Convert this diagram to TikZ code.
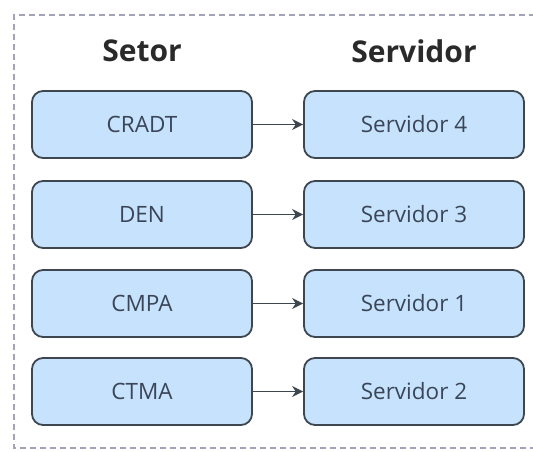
\documentclass[tikz,border=0pt]{standalone}
\usepackage{fontspec}
\setmainfont{Open Sans}
\usetikzlibrary{arrows.meta}
\definecolor{boxfill}{HTML}{C7E2FC}
\definecolor{boxline}{HTML}{3E4650}
\definecolor{boxtext}{HTML}{3A4658}
\definecolor{frameline}{HTML}{A2A2B8}
\definecolor{headtext}{HTML}{2A2A2A}
\tikzset{
  x=1pt, y=-1pt,
  itembox/.style={draw=boxline, fill=boxfill, line width=1.8pt,
    rounded corners=11pt, minimum width=220pt, minimum height=67pt,
    inner sep=0pt, text=boxtext, font=\fontsize{22.5}{26}\selectfont},
  header/.style={text=headtext, font=\fontsize{30}{34}\selectfont\bfseries},
  link/.style={draw=boxline, line width=1.8pt,
    -{Stealth[length=11pt,width=11pt]}},
  frame/.style={draw=frameline, line width=1.4pt, dash pattern=on 6pt off 4pt}
}
\begin{document}
\begin{tikzpicture}
\useasboundingbox (0,0) rectangle (533,451);
% outer dashed frame (right side runs past the page edge)
\draw[frame] (545,15) -- (14,15) -- (14,448) -- (545,448);
% column headings
\node[header] (hsetor) at (142,51) {Setor};
\node[header] (hserv) at (414,51) {Servidor};
% sector boxes
\node[itembox] (s1) at (142,124.5) {CRADT};
\node[itembox] (s2) at (142,214.5) {DEN};
\node[itembox] (s3) at (142,303.5) {CMPA};
\node[itembox] (s4) at (142,391.5) {CTMA};
% server boxes
\node[itembox] (v4) at (414,124.5) {Servidor 4};
\node[itembox] (v3) at (414,214.5) {Servidor 3};
\node[itembox] (v1) at (414,303.5) {Servidor 1};
\node[itembox] (v2) at (414,391.5) {Servidor 2};
% assignments
\draw[link] (s1) -- (v4);
\draw[link] (s2) -- (v3);
\draw[link] (s3) -- (v1);
\draw[link] (s4) -- (v2);
\end{tikzpicture}
\end{document}
